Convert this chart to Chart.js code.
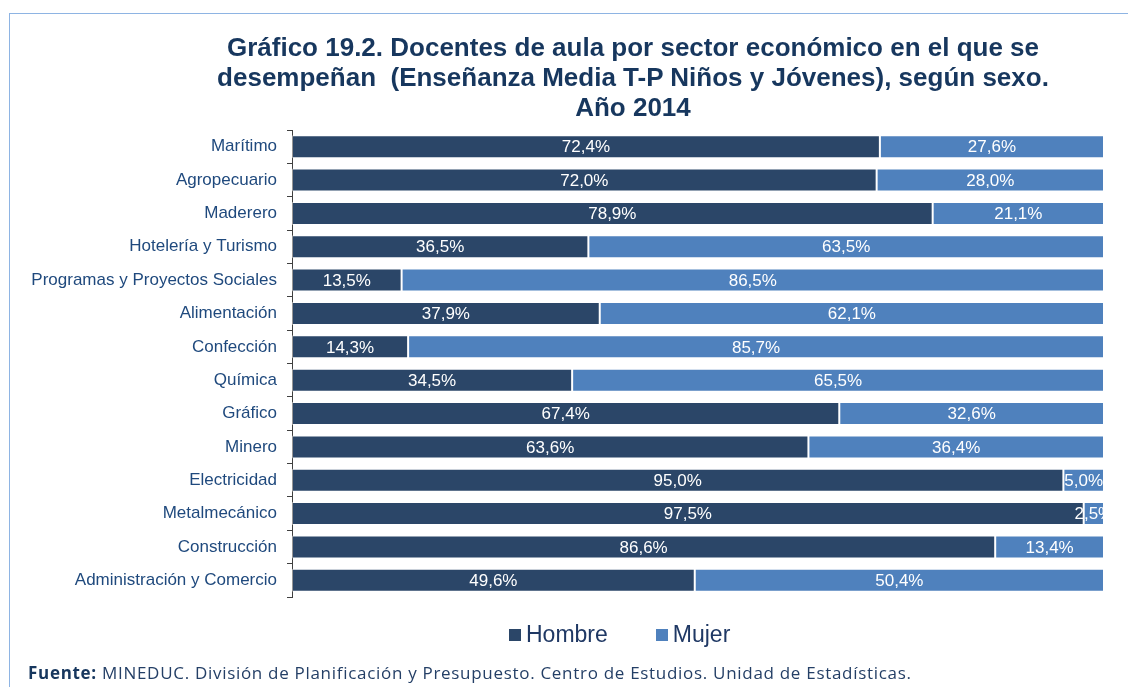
<!DOCTYPE html>
<html lang="es">
<head>
<meta charset="utf-8">
<title>Gráfico 19.2</title>
<script src="https://cdn.jsdelivr.net/npm/chart.js@4.4.1/dist/chart.umd.min.js"></script>
<style>
    html, body { margin: 0; padding: 0; background: #fff; }
    #wrap { position: relative; width: 1128px; height: 687px; overflow: hidden; }
    #frame { position: absolute; left: 9px; top: 13px; width: 1200px; height: 700px;
             border-top: 1px solid #8eb4e3; border-left: 1px solid #8eb4e3; }
    #chart { position: absolute; left: 0; top: 0; }
    #titulo { position: absolute; left: 133px; width: 1000px; top: 32px; text-align: center;
              white-space: pre; font: bold 26px/30px Arial, "Liberation Sans", sans-serif; color: #17375e; }
    #legend { position: absolute; left: 509px; top: 621px; display: flex; align-items: center;
              font: 23px Arial, "Liberation Sans", sans-serif; color: #1f3864; }
    #legend span.box { display: inline-block; width: 12px; height: 12px; margin-right: 5px; }
    #legend .item { display: flex; align-items: center; margin-right: 48px; }
    #fuente { position: absolute; left: 28px; top: 661px; font: 17px "Open Sans", sans-serif;
              letter-spacing: 0.7px; color: #243f66; white-space: nowrap; }
    #fuente b { color: #17375e; }
</style>
</head>
<body>
<div id="wrap">
    <div id="frame"></div>
    <canvas id="chart" width="1128" height="687"></canvas>
    <div id="titulo"></div>
    <div id="legend"></div>
    <div id="fuente"><b>Fuente:</b> MINEDUC. División de Planificación y Presupuesto. Centro de Estudios. Unidad de Estadísticas.</div>
</div>
<script>
document.addEventListener('DOMContentLoaded', function() {

    // --- DATOS ---
    const sectores = [
        'Marítimo', 'Agropecuario', 'Maderero', 'Hotelería y Turismo',
        'Programas y Proyectos Sociales', 'Alimentación', 'Confección', 'Química',
        'Gráfico', 'Minero', 'Electricidad', 'Metalmecánico', 'Construcción',
        'Administración y Comercio'
    ];
    const hombre = [72.4, 72.0, 78.9, 36.5, 13.5, 37.9, 14.3, 34.5, 67.4, 63.6, 95.0, 97.5, 86.6, 49.6];
    const mujer  = [27.6, 28.0, 21.1, 63.5, 86.5, 62.1, 85.7, 65.5, 32.6, 36.4, 5.0, 2.5, 13.4, 50.4];
    const titulo = [
        'Gráfico 19.2. Docentes de aula por sector económico en el que se',
        'desempeñan  (Enseñanza Media T-P Niños y Jóvenes), según sexo.',
        'Año 2014'
    ];

    const colHombre = '#2b4668';
    const colMujer = '#4f81bd';

    // etiquetas de porcentaje dentro de cada barra
    const etiquetas = {
        id: 'etiquetas',
        afterDatasetsDraw(chart) {
            const ctx = chart.ctx;
            const area = chart.chartArea;
            ctx.save();
            ctx.beginPath();
            ctx.rect(area.left, area.top, area.right - area.left, area.bottom - area.top);
            ctx.clip();
            ctx.font = '17px Arial, "Liberation Sans", sans-serif';
            ctx.fillStyle = '#ffffff';
            ctx.textAlign = 'center';
            ctx.textBaseline = 'middle';
            chart.data.datasets.forEach((ds, i) => {
                chart.getDatasetMeta(i).data.forEach((bar, j) => {
                    const txt = ds.data[j].toFixed(1).replace('.', ',') + '%';
                    ctx.fillText(txt, (bar.x + bar.base) / 2, bar.y + 1);
                });
            });
            ctx.restore();
        }
    };

    new Chart(document.getElementById('chart'), {
        type: 'bar',
        data: {
            labels: sectores,
            datasets: [
                { label: 'Hombre', data: hombre, backgroundColor: colHombre,
                  borderColor: 'rgba(255,255,255,0.45)', borderWidth: 1, borderSkipped: false },
                { label: 'Mujer', data: mujer, backgroundColor: colMujer,
                  borderColor: 'rgba(255,255,255,0.45)', borderWidth: 1, borderSkipped: false }
            ]
        },
        options: {
            indexAxis: 'y',
            responsive: false,
            animation: false,
            barPercentage: 0.69,
            categoryPercentage: 1,
            layout: { padding: { left: 0, right: 24, top: 130, bottom: 90 } },
            plugins: {
                legend: { display: false },
                tooltip: { enabled: false },
                title: { display: false }
            },
            scales: {
                x: { stacked: true, min: 0, max: 100, display: false },
                y: {
                    stacked: true,
                    afterFit: function(scale) { scale.width = 292; },
                    grid: { drawOnChartArea: false, tickLength: 5, color: '#404040' },
                    border: { color: '#404040', width: 1 },
                    ticks: {
                        color: '#1f497d',
                        padding: 10,
                        autoSkip: false,
                        font: { family: 'Arial, "Liberation Sans", sans-serif', size: 17 }
                    }
                }
            }
        },
        plugins: [etiquetas]
    });

    // --- TITULO Y LEYENDA ---
    document.getElementById('titulo').textContent = titulo.join('\n');
    document.getElementById('legend').innerHTML = [
        { t: 'Hombre', c: colHombre }, { t: 'Mujer', c: colMujer }
    ].map(l => `<div class="item"><span class="box" style="background:${l.c}"></span>${l.t}</div>`).join('');
});
</script>
</body>
</html>
